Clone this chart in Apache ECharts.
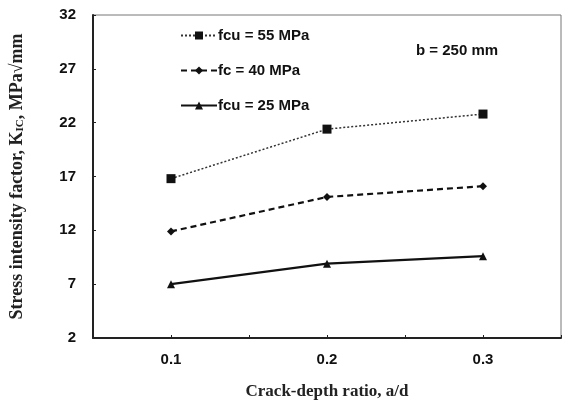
<!DOCTYPE html>
<html>
<head>
<meta charset="utf-8">
<script src="https://cdn.jsdelivr.net/npm/echarts@6/dist/echarts.min.js"></script>
<style>html,body{margin:0;padding:0;background:#fff}#c{width:564px;height:405px}</style>
</head>
<body>
<div id="c"></div>
<script>
const crackRatio = [0.1, 0.2, 0.3];
const fcu55 = [16.8, 21.4, 22.8];
const fc40 = [11.9, 15.1, 16.1];
const fcu25 = [7.0, 8.9, 9.6];
const seriesNames = ['fcu = 55 MPa', 'fc = 40 MPa', 'fcu = 25 MPa'];
const xTickLabels = ['0.1', '0.2', '0.3'];
const annotation = 'b = 250 mm';

const pairs = v => crackRatio.map((x, i) => [x, v[i]]);
const chart = echarts.init(document.getElementById('c'), null, {renderer: 'canvas'});
const sansBold = {fontFamily: 'Liberation Sans', fontWeight: 'bold', color: '#111'};
chart.setOption({
  animation: false,
  backgroundColor: '#fff',
  grid: {left: 92, right: 2, top: 15, bottom: 64, show: true, borderColor: '#777', borderWidth: 1},
  legend: {
    orient: 'vertical', left: 175, top: 23, itemGap: 20, itemWidth: 36, itemHeight: 10,
    data: seriesNames,
    textStyle: Object.assign({fontSize: 15, padding: [0, 0, 0, -4]}, sansBold)
  },
  graphic: [{
    type: 'text', left: 416, top: 43,
    style: {text: annotation, fontSize: 15, fontWeight: 'bold', fontFamily: 'Liberation Sans', fill: '#111'}
  }],
  xAxis: {
    type: 'value', min: 0.05, max: 0.35, interval: 0.05,
    axisLine: {lineStyle: {color: '#222', width: 2}},
    axisTick: {inside: true, length: 3, lineStyle: {color: '#222'}},
    splitLine: {show: false},
    axisLabel: Object.assign({fontSize: 15, margin: 14, formatter: v => {
      const s = v.toFixed(1); const r = Math.round(v * 100);
      return (r % 10 === 0 && xTickLabels.includes(s)) ? s : '';
    }}, sansBold),
    name: 'Crack-depth ratio, a/d', nameLocation: 'middle', nameGap: 45,
    nameTextStyle: {fontFamily: 'Liberation Serif', fontWeight: 'bold', fontSize: 17, color: '#222'}
  },
  yAxis: {
    type: 'value', min: 2, max: 32, interval: 5,
    axisLine: {show: true, lineStyle: {color: '#222', width: 2}},
    axisTick: {show: true, inside: true, length: 3, lineStyle: {color: '#222'}},
    splitLine: {show: false},
    axisLabel: Object.assign({fontSize: 15, margin: 17}, sansBold),
    name: 'Stress intensity factor, K{s|IC}, MPa√mm', nameLocation: 'middle', nameGap: 67,
    nameTextStyle: {fontFamily: 'Liberation Serif', fontWeight: 'bold', fontSize: 18, color: '#222',
      rich: {s: {fontFamily: 'Liberation Serif', fontWeight: 'bold', fontSize: 11, color: '#222', verticalAlign: 'bottom', padding: [7, 0, 0, 0]}}}
  },
  series: [
    {name: seriesNames[0], type: 'line', data: pairs(fcu55), symbol: 'rect', symbolSize: 9,
      itemStyle: {color: '#111'}, lineStyle: {color: '#333', width: 1.5, type: [2, 2]}},
    {name: seriesNames[1], type: 'line', data: pairs(fc40), symbol: 'diamond', symbolSize: 8,
      itemStyle: {color: '#111'}, lineStyle: {color: '#111', width: 2.2, type: [6, 4]}},
    {name: seriesNames[2], type: 'line', data: pairs(fcu25), symbol: 'triangle', symbolSize: 8,
      itemStyle: {color: '#111'}, lineStyle: {color: '#111', width: 2.2, type: 'solid'}}
  ]
});
</script>
</body>
</html>
